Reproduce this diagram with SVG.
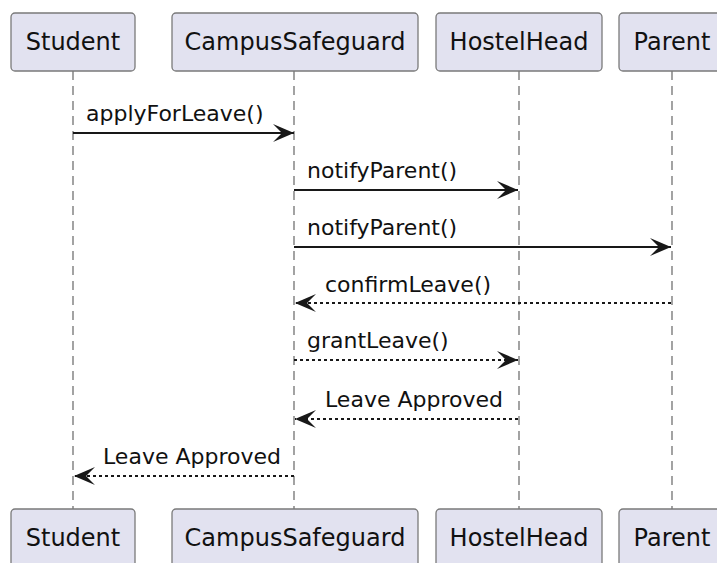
<svg xmlns="http://www.w3.org/2000/svg" width="717" height="563" viewBox="0 0 717 563">
<style>
.box{fill:#E2E2F0;stroke:#7a7a7a;stroke-width:1.3}
.pt{font-family:"DejaVu Sans",sans-serif;font-size:24px;fill:#111;text-anchor:middle}
.life{stroke:#666;stroke-width:1.2;stroke-dasharray:9,6;fill:none}
.msg{stroke:#181818;stroke-width:1.8;fill:none}
.dash{stroke:#181818;stroke-width:1.8;fill:none;stroke-dasharray:3,3}
.lbl{font-family:"DejaVu Sans",sans-serif;font-size:22px;fill:#111}
</style>
<defs>
<marker id="ah" markerUnits="userSpaceOnUse" markerWidth="24" markerHeight="22" refX="22" refY="10" orient="auto">
<path d="M1,1 L22,10 L1,19 L10,10 Z" fill="#181818"/>
</marker>
</defs>
<g id="lifelines">
<line class="life" x1="73" y1="71" x2="73" y2="509"/>
<line class="life" x1="294" y1="71" x2="294" y2="509"/>
<line class="life" x1="519" y1="71" x2="519" y2="509"/>
<line class="life" x1="672" y1="71" x2="672" y2="509"/>
</g>
<g id="student-top"><rect class="box" x="11" y="13" width="124" height="58" rx="4"/><text class="pt" x="73" y="50">Student</text></g>
<g id="campus-top"><rect class="box" x="172" y="13" width="246" height="58" rx="4"/><text class="pt" x="295" y="50">CampusSafeguard</text></g>
<g id="hostel-top"><rect class="box" x="436" y="13" width="166" height="58" rx="4"/><text class="pt" x="519" y="50">HostelHead</text></g>
<g id="parent-top"><rect class="box" x="619" y="13" width="106" height="58" rx="4"/><text class="pt" x="672" y="50">Parent</text></g>
<g id="student-bottom"><rect class="box" x="11" y="509" width="124" height="58" rx="4"/><text class="pt" x="73" y="546">Student</text></g>
<g id="campus-bottom"><rect class="box" x="172" y="509" width="246" height="58" rx="4"/><text class="pt" x="295" y="546">CampusSafeguard</text></g>
<g id="hostel-bottom"><rect class="box" x="436" y="509" width="166" height="58" rx="4"/><text class="pt" x="519" y="546">HostelHead</text></g>
<g id="parent-bottom"><rect class="box" x="619" y="509" width="106" height="58" rx="4"/><text class="pt" x="672" y="546">Parent</text></g>
<g id="connectors">
<line class="msg" x1="73" y1="133" x2="294" y2="133" marker-end="url(#ah)"/>
<text class="lbl" x="86" y="121">applyForLeave()</text>
<line class="msg" x1="294" y1="190" x2="518" y2="190" marker-end="url(#ah)"/>
<text class="lbl" x="307" y="178">notifyParent()</text>
<line class="msg" x1="294" y1="247" x2="671" y2="247" marker-end="url(#ah)"/>
<text class="lbl" x="307" y="235">notifyParent()</text>
<line class="dash" x1="671" y1="303" x2="295" y2="303" marker-end="url(#ah)"/>
<text class="lbl" x="325" y="292">confirmLeave()</text>
<line class="dash" x1="294" y1="360" x2="518" y2="360" marker-end="url(#ah)"/>
<text class="lbl" x="307" y="348">grantLeave()</text>
<line class="dash" x1="518" y1="419" x2="295" y2="419" marker-end="url(#ah)"/>
<text class="lbl" x="325" y="407">Leave Approved</text>
<line class="dash" x1="294" y1="476" x2="74" y2="476" marker-end="url(#ah)"/>
<text class="lbl" x="103" y="464">Leave Approved</text>
</g>
</svg>
